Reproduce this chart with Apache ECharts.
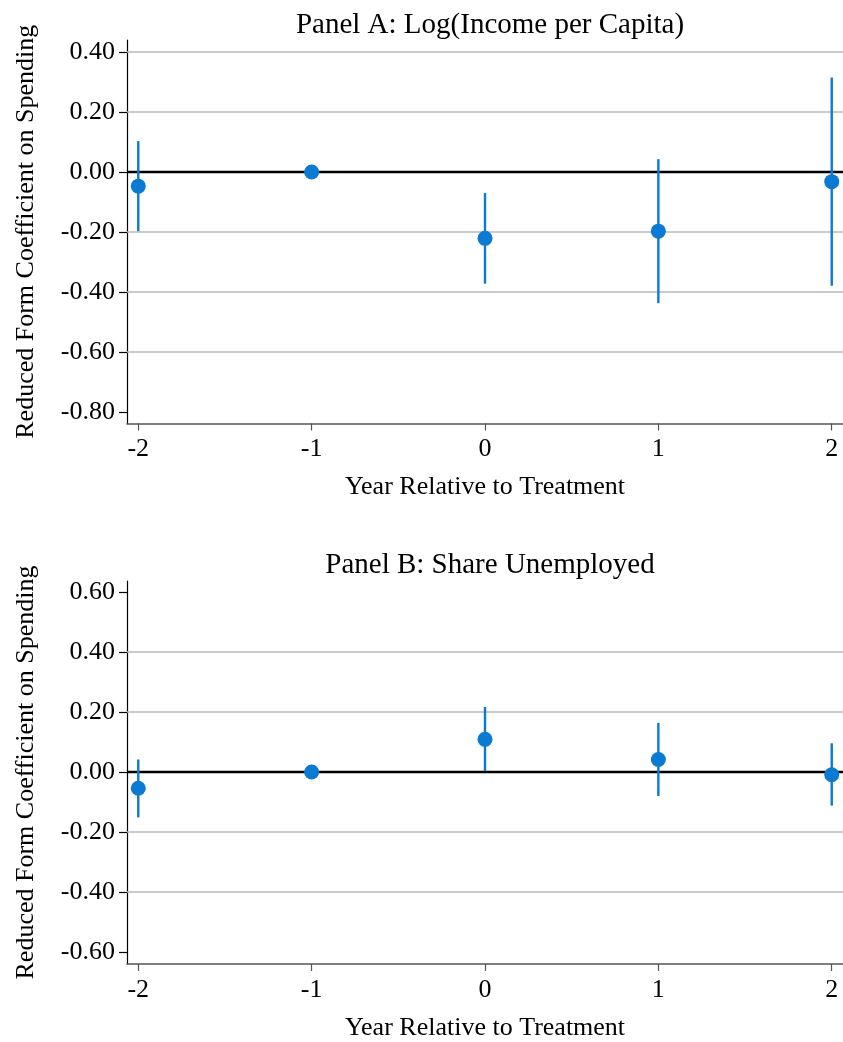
<!DOCTYPE html>
<html>
<head>
<meta charset="utf-8">
<script src="https://cdn.jsdelivr.net/npm/echarts@6/dist/echarts.min.js"></script>
<style>
  html, body { margin: 0; padding: 0; background: #fff; }
  #chart { width: 843px; height: 1042px; }
</style>
</head>
<body>
<div id="chart"></div>
<script>
// event-study coefficients
var years = [-2, -1, 0, 1, 2];
var xTicks = [-2, -1, 0, 1, 2];

// Panel A: log(income per capita)
var incomeCoef = [-0.047, 0, -0.221, -0.197, -0.032];
var incomeLo = [-0.197, 0, -0.372, -0.437, -0.379];
var incomeHi = [0.103, 0, -0.070, 0.043, 0.315];
var incomeTicks = [-0.8, -0.6, -0.4, -0.2, 0, 0.2, 0.4];
var incomeGrid = [-0.6, -0.4, -0.2, 0.2, 0.4];

// Panel B: share unemployed
var unempCoef = [-0.054, 0, 0.109, 0.042, -0.009];
var unempLo = [-0.151, 0, 0.003, -0.080, -0.112];
var unempHi = [0.042, 0, 0.217, 0.164, 0.096];
var unempTicks = [-0.6, -0.4, -0.2, 0, 0.2, 0.4, 0.6];
var unempGrid = [-0.4, -0.2, 0.2, 0.4];

var FONT = "'Liberation Serif', 'DejaVu Serif', serif";
var BLUE = '#0a7ad2';

var chart = echarts.init(document.getElementById('chart'));

function xAxisFor(idx) {
    return {
        type: 'value',
        gridIndex: idx,
        min: -2.065,
        max: 2.065,
        name: 'Year Relative to Treatment',
        nameLocation: 'middle',
        nameGap: 51,
        nameTextStyle: { fontFamily: FONT, fontSize: 26, color: '#000' },
        axisLine: { show: true, onZero: false, lineStyle: { color: '#555', width: 1.6 } },
        axisTick: { show: true, inside: false, length: 7, customValues: xTicks, lineStyle: { color: '#555', width: 1.2 } },
        axisLabel: { customValues: xTicks, margin: 13, fontFamily: FONT, fontSize: 26, color: '#000',
            formatter: function (v) { return String(v); } },
        splitLine: { show: false }
    };
}

function yAxisFor(idx, min, max, ticks) {
    return {
        type: 'value',
        gridIndex: idx,
        min: min,
        max: max,
        name: 'Reduced Form Coefficient on Spending',
        nameLocation: 'middle',
        nameGap: 88,
        nameTextStyle: { fontFamily: FONT, fontSize: 26, color: '#000' },
        axisLine: { show: true, onZero: false, lineStyle: { color: '#000', width: 1.2 } },
        axisTick: { show: true, inside: false, length: 8, customValues: ticks, lineStyle: { color: '#000', width: 1.2 } },
        axisLabel: { customValues: ticks, margin: 12, fontFamily: FONT, fontSize: 26, color: '#000',
            formatter: function (v) { return (Math.abs(v) < 1e-9 ? 0 : v).toFixed(2); } },
        splitLine: { show: false }
    };
}

function gridLines(vals) {
    var out = vals.map(function (v) {
        return { yAxis: v, lineStyle: { color: '#b8b8b8', width: 1.5, type: 'solid' } };
    });
    out.push({ yAxis: 0, lineStyle: { color: '#000', width: 2.3, type: 'solid' } });
    return out;
}

function errorBars(idx, lo, hi, grid) {
    var data = years.map(function (y, i) { return [y, lo[i], hi[i]]; });
    return {
        type: 'custom',
        xAxisIndex: idx,
        yAxisIndex: idx,
        z: 3,
        data: data,
        renderItem: function (params, api) {
            var a = api.coord([api.value(0), api.value(1)]);
            var b = api.coord([api.value(0), api.value(2)]);
            return {
                type: 'line',
                shape: { x1: a[0], y1: a[1], x2: b[0], y2: b[1] },
                style: { stroke: BLUE, lineWidth: 2.4 }
            };
        },
        markLine: {
            silent: true,
            symbol: ['none', 'none'],
            label: { show: false },
            z: 1,
            data: gridLines(grid)
        }
    };
}

function points(idx, coef) {
    return {
        type: 'scatter',
        xAxisIndex: idx,
        yAxisIndex: idx,
        z: 5,
        symbol: 'circle',
        symbolSize: 15,
        itemStyle: { color: BLUE, opacity: 1 },
        data: years.map(function (y, i) { return [y, coef[i]]; })
    };
}

var option = {
    backgroundColor: '#fff',
    animation: false,
    title: [{
        text: 'Panel A: Log(Income per Capita)',
        left: 485, top: 6, textAlign: 'center',
        textStyle: { fontFamily: FONT, fontSize: 29, fontWeight: 'normal', color: '#000' }
    }, {
        text: 'Panel B: Share Unemployed',
        left: 485, top: 546, textAlign: 'center',
        textStyle: { fontFamily: FONT, fontSize: 29, fontWeight: 'normal', color: '#000' }
    }],
    grid: [
        { left: 127, top: 40, right: 0, height: 383.5, containLabel: false },
        { left: 127, top: 581, right: 0, height: 383, containLabel: false }
    ],
    xAxis: [xAxisFor(0), xAxisFor(1)],
    yAxis: [
        yAxisFor(0, -0.838, 0.44, incomeTicks),
        yAxisFor(1, -0.64, 0.637, unempTicks)
    ],
    series: [
        errorBars(0, incomeLo, incomeHi, incomeGrid),
        points(0, incomeCoef),
        errorBars(1, unempLo, unempHi, unempGrid),
        points(1, unempCoef)
    ]
};

chart.setOption(option);
</script>
</body>
</html>
